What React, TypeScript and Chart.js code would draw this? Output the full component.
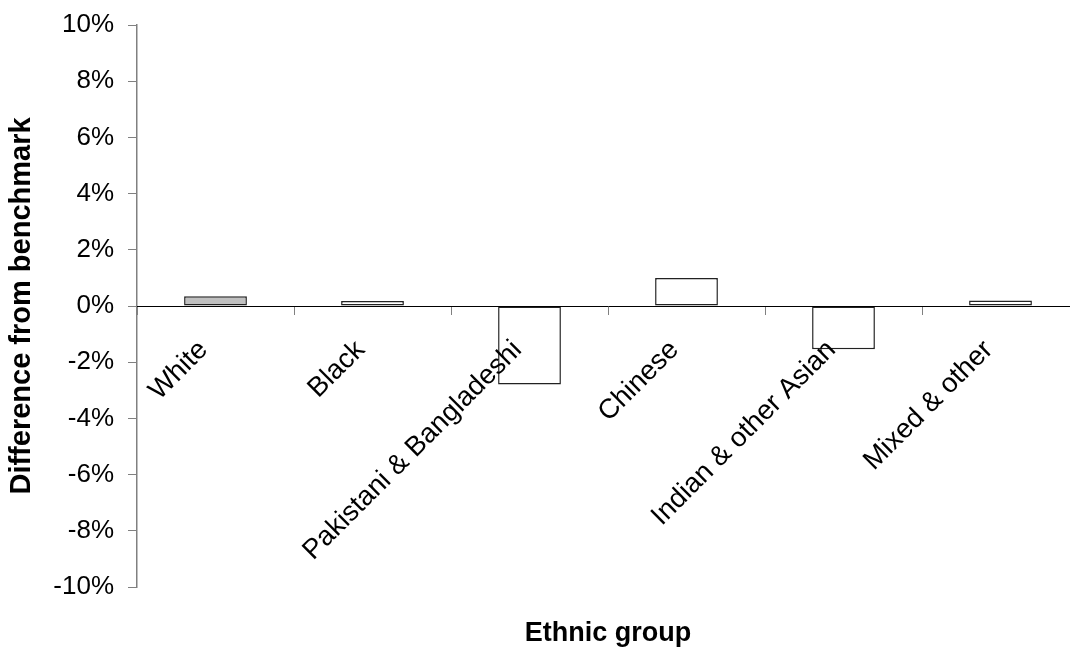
import React, { useEffect, useRef } from "react";
import { Chart, registerables } from "chart.js";

Chart.register(...registerables);

// Difference from benchmark (percentage points) by ethnic group
const categories = [
  "White",
  "Black",
  "Pakistani & Bangladeshi",
  "Chinese",
  "Indian & other Asian",
  "Mixed & other",
];
const differences = [0.35, 0.18, -2.79, 1.0, -1.54, 0.2];
const barFills = ["#c0c0c0", "#ffffff", "#ffffff", "#ffffff", "#ffffff", "#ffffff"];

const yAxisTitle = "Difference from benchmark";
const xAxisTitle = "Ethnic group";
const yMin = -10;
const yMax = 10;
const yStep = 2;

const FONT = "'Liberation Sans', Arial, Helvetica, sans-serif";

// Category-axis title, centred under the plot area near the bottom edge
const xTitlePlugin = {
  id: "xAxisTitle",
  afterDraw(chart: any) {
    const { ctx, chartArea } = chart;
    ctx.save();
    ctx.font = `bold 27px ${FONT}`;
    ctx.fillStyle = "#000";
    ctx.textAlign = "center";
    ctx.textBaseline = "alphabetic";
    ctx.fillText(xAxisTitle, (chartArea.left + chartArea.right) / 2, chartArea.bottom + 54);
    ctx.restore();
  },
};

export default function App() {
  const canvasRef = useRef<HTMLCanvasElement | null>(null);

  useEffect(() => {
    if (!canvasRef.current) return;
    const chart = new Chart(canvasRef.current, {
      type: "bar",
      data: {
        labels: categories,
        datasets: [
          {
            data: differences,
            backgroundColor: barFills,
            borderColor: "#222",
            borderWidth: 1.5,
            borderSkipped: false,
            categoryPercentage: 1,
            barPercentage: 0.4,
          },
        ],
      },
      options: {
        responsive: false,
        animation: false,
        devicePixelRatio: 1,
        layout: { padding: { top: 25, bottom: 60, left: 0, right: 21 } },
        plugins: {
          legend: { display: false },
          tooltip: { enabled: false },
        },
        scales: {
          x: {
            type: "category",
            position: { y: 0 } as any,
            offset: true,
            grid: {
              display: true,
              drawOnChartArea: false,
              drawTicks: true,
              tickLength: 8,
              color: "#808080",
              offset: true,
              lineWidth: 1,
              z: 1,
            },
            border: { display: true, color: "#000", width: 1, z: 1 },
            ticks: {
              autoSkip: false,
              maxRotation: 45,
              minRotation: 45,
              padding: 20,
              labelOffset: -12,
              color: "#000",
              font: { family: FONT, size: 27.5 },
              z: 1,
            },
          },
          y: {
            type: "linear",
            min: yMin,
            max: yMax,
            afterFit: (scale: any) => {
              scale.width = 137;
              // let the outer layout padding alone decide the plot's top and bottom
              scale.paddingTop = 10;
              scale.paddingBottom = 10;
            },
            ticks: {
              stepSize: yStep,
              padding: 14,
              color: "#000",
              font: { family: FONT, size: 26 },
              callback: (v: any) => `${v}%`,
            },
            grid: {
              drawOnChartArea: false,
              drawTicks: true,
              tickLength: 9,
              color: "#808080",
              lineWidth: 1,
            },
            border: { display: true, color: "#808080", width: 1.5 },
            title: {
              display: true,
              text: yAxisTitle,
              color: "#000",
              font: { family: FONT, size: 29, weight: "bold" },
              padding: { top: 5, bottom: 0 },
            },
          },
        },
      },
      plugins: [xTitlePlugin],
    });
    return () => chart.destroy();
  }, []);

  return (
    <div
      style={{
        position: "fixed",
        left: 0,
        top: 0,
        width: 1070,
        height: 647,
        overflow: "hidden",
        background: "#fff",
      }}
    >
      <canvas ref={canvasRef} width={1100} height={647} style={{ display: "block" }} />
    </div>
  );
}
